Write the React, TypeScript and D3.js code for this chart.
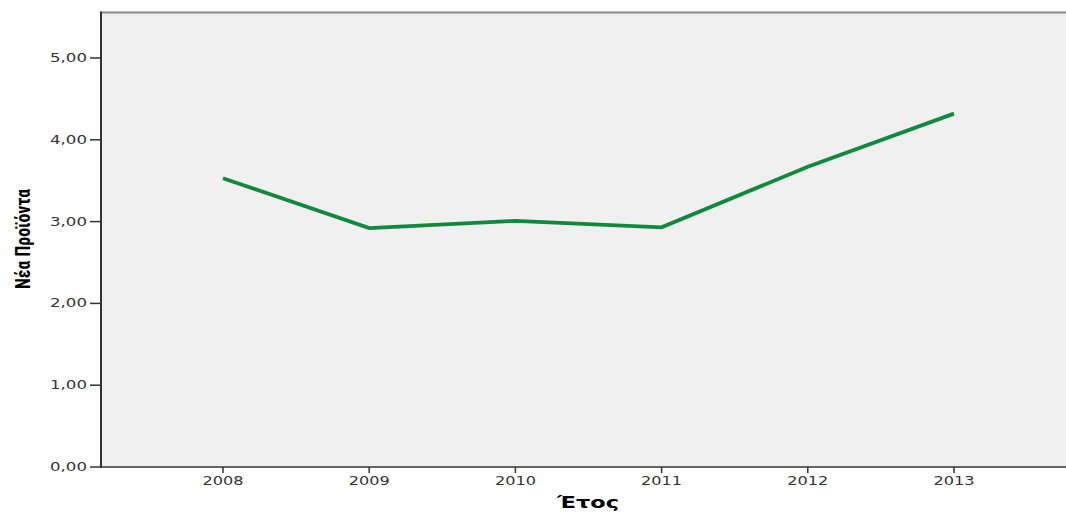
import React from "react";
import * as d3 from "d3";

const years = ["2008", "2009", "2010", "2011", "2012", "2013"];
const values = [3.53, 2.92, 3.01, 2.93, 3.67, 4.32];
const yTicks = [0, 1, 2, 3, 4, 5];
const yTickLabels = ["0,00", "1,00", "2,00", "3,00", "4,00", "5,00"];

const W = 1066;
const H = 513;
const left = 101;
const top = 12;
const bottom = 467;
const right = 1080;

export default function App() {
  const x = d3.scalePoint<string>().domain(years).range([223, 954]);
  const y = d3.scaleLinear().domain([0, 5]).range([bottom, 58]);
  const line = d3
    .line<number>()
    .x((_, i) => x(years[i]) as number)
    .y((d) => y(d));

  return (
    <svg
      width={W}
      height={H}
      style={{ position: "absolute", left: 0, top: 0, background: "#fff" }}
      fontFamily="DejaVu Sans, Verdana, sans-serif"
    >
      <rect x={left} y={top} width={right - left} height={bottom - top} fill="#f0f0f0" />
      <line x1={left} x2={right} y1={top + 0.5} y2={top + 0.5} stroke="#888" strokeWidth={2} />
      <line x1={left} x2={right} y1={bottom} y2={bottom} stroke="#666" strokeWidth={2} />
      <line x1={left} x2={left} y1={top - 0.5} y2={bottom + 1} stroke="#333" strokeWidth={2} />
      {yTicks.map((t, i) => (
        <g key={t}>
          <line x1={90} x2={left} y1={y(t)} y2={y(t)} stroke="#333" strokeWidth={1.5} />
          <text
            x={87}
            y={y(t) + 4}
            textAnchor="end"
            fontSize={12}
            fill="#333"
            textLength={37}
            lengthAdjust="spacingAndGlyphs"
          >
            {yTickLabels[i]}
          </text>
        </g>
      ))}
      {years.map((yr) => (
        <g key={yr}>
          <line x1={x(yr)} x2={x(yr)} y1={bottom} y2={bottom + 6} stroke="#333" strokeWidth={1.5} />
          <text
            x={x(yr)}
            y={bottom + 18}
            textAnchor="middle"
            fontSize={12}
            fill="#333"
            textLength={41}
            lengthAdjust="spacingAndGlyphs"
          >
            {yr}
          </text>
        </g>
      ))}
      <path d={line(values) || ""} fill="none" stroke="#0f8a3c" strokeWidth={3.8} />
      <text
        x={588}
        y={508}
        textAnchor="middle"
        fontSize={15}
        fontWeight="bold"
        fill="#000"
        textLength={62}
        lengthAdjust="spacingAndGlyphs"
      >
        Έτος
      </text>
      <text
        transform="translate(30,239) rotate(-90)"
        textAnchor="middle"
        fontSize={20}
        fontWeight="bold"
        fill="#000"
        fontFamily="Liberation Sans Narrow, Roboto Condensed, Liberation Sans, sans-serif"
        textLength={100}
        lengthAdjust="spacingAndGlyphs"
      >
        Νέα Προϊόντα
      </text>
    </svg>
  );
}
